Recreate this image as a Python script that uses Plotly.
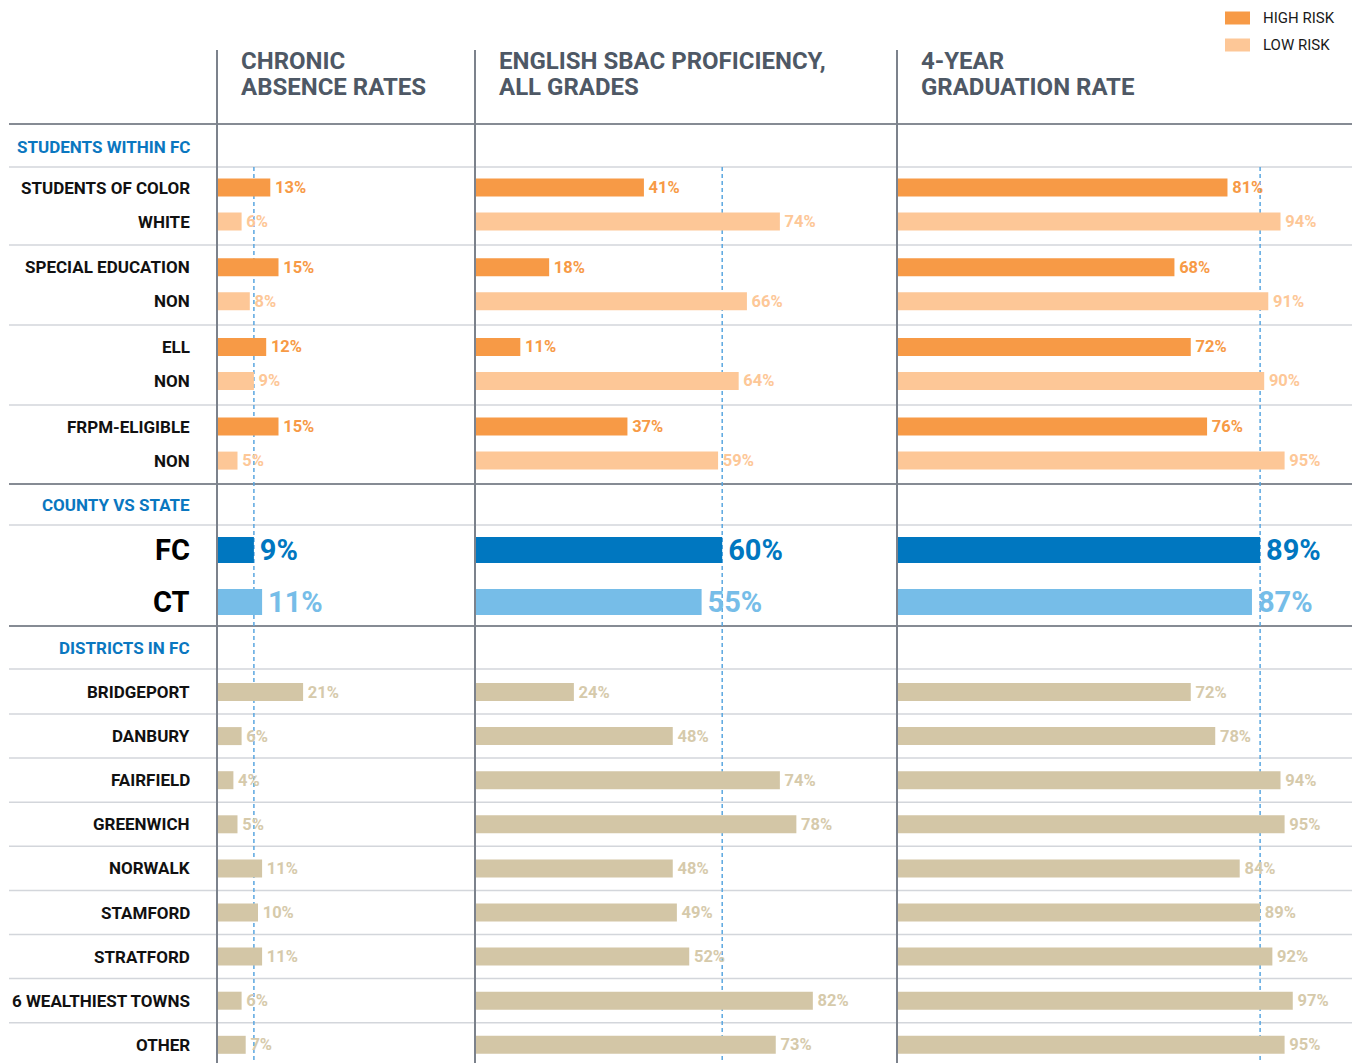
import plotly.graph_objects as go

# ---------------- data ----------------
metric_titles = [
    ("CHRONIC", "ABSENCE RATES"),
    ("ENGLISH SBAC PROFICIENCY,", "ALL GRADES"),
    ("4-YEAR", "GRADUATION RATE"),
]
section_titles = ["STUDENTS WITHIN FC", "COUNTY VS STATE", "DISTRICTS IN FC"]
risk_levels = ["HIGH RISK", "LOW RISK"]

student_groups = ["STUDENTS OF COLOR", "WHITE", "SPECIAL EDUCATION", "NON",
                  "ELL", "NON", "FRPM-ELIGIBLE", "NON"]
chronic_students = [13, 6, 15, 8, 12, 9, 15, 5]
english_students = [41, 74, 18, 66, 11, 64, 37, 59]
grad_students = [81, 94, 68, 91, 72, 90, 76, 95]

regions = ["FC", "CT"]
chronic_regions = [9, 11]
english_regions = [60, 55]
grad_regions = [89, 87]

districts = ["BRIDGEPORT", "DANBURY", "FAIRFIELD", "GREENWICH", "NORWALK",
             "STAMFORD", "STRATFORD", "6 WEALTHIEST TOWNS", "OTHER"]
chronic_districts = [21, 6, 4, 5, 11, 10, 11, 6, 7]
english_districts = [24, 48, 74, 78, 48, 49, 52, 82, 73]
grad_districts = [72, 78, 94, 95, 84, 89, 92, 97, 95]

panels = [
    (chronic_students, chronic_regions, chronic_districts),
    (english_students, english_regions, english_districts),
    (grad_students, grad_regions, grad_districts),
]

# ---------------- styling ----------------
W, H = 1357, 1063
FONT = "Roboto"
HIGH = "#F79A46"
LOW = "#FDC797"
FC_BLUE = "#0077C0"
CT_BLUE = "#76BDE8"
TAN = "#D3C6A6"
TAN_TEXT = "#D6CAAB"
HEAD_BLUE = "#0A77C0"
TITLE_GREY = "#4E5865"
DARK_RULE = "#5E6570"
LIGHT_RULE = "#D3D6DB"
PANEL_RULE = "#7C828C"
REF_BLUE = "#5BA7E0"

px_per_pct = [4.1, 4.12, 4.08]
panel_edges = [217, 475, 897, 1352]
label_right = 192
rule_left, rule_right = 9, 1352

# vertical layout (y axis runs in page pixels, top = 0)
header_rule = 124
students_head = 147
student_y = [187.5 + 79.7 * (i // 2) + 34 * (i % 2) for i in range(len(student_groups))]
county_head = 505
region_y = [550, 602]
districts_head = 648
district_y = [692 + 44.1 * i for i in range(len(districts))]

VALUE_TEMPLATE = "\u200a%{x}%"


def px(x):
    return x / W


fig = go.Figure()
axis_ids = ["x", "x2", "x3"]

for k, (stud_vals, reg_vals, dist_vals) in enumerate(panels):
    xa = axis_ids[k]
    common = dict(orientation="h", xaxis=xa, yaxis="y", textposition="outside",
                  texttemplate=VALUE_TEMPLATE, constraintext="none", cliponaxis=False,
                  marker_line_width=0, hoverinfo="skip", showlegend=False)
    stud_colors = [HIGH, LOW] * (len(stud_vals) // 2)
    fig.add_trace(go.Bar(
        x=stud_vals, y=student_y, width=18, marker_color=stud_colors,
        textfont=dict(family=FONT, size=16.5, weight=700, color=stud_colors), **common))
    fig.add_trace(go.Bar(
        x=reg_vals, y=region_y, width=26, marker_color=[FC_BLUE, CT_BLUE],
        textfont=dict(family=FONT, size=29, weight=700, color=[FC_BLUE, CT_BLUE]), **common))
    fig.add_trace(go.Bar(
        x=dist_vals, y=district_y, width=18, marker_color=TAN,
        textfont=dict(family=FONT, size=16.5, weight=700, color=TAN_TEXT), **common))

shapes = []
annotations = []

# panel axes and titles
layout_axes = {}
for k in range(3):
    x0, x1 = panel_edges[k], panel_edges[k + 1]
    key = "xaxis" if k == 0 else f"xaxis{k + 1}"
    layout_axes[key] = dict(domain=[px(x0), px(x1)], range=[0, (x1 - x0) / px_per_pct[k]],
                            visible=False, fixedrange=True, anchor="y")
    # panel divider
    shapes.append(dict(type="line", xref="paper", yref="y", x0=px(x0), x1=px(x0),
                       y0=50, y1=H, line=dict(color=PANEL_RULE, width=2), layer="above"))
    # reference line at the county (FC) value
    fc_val = panels[k][1][0]
    shapes.append(dict(type="line", xref=axis_ids[k], yref="y", x0=fc_val, x1=fc_val,
                       y0=167, y1=H, line=dict(color=REF_BLUE, width=1.5, dash="4px,3px"),
                       layer="below"))
    line1, line2 = metric_titles[k]
    for txt, yy in ((line1, 61), (line2, 87)):
        annotations.append(dict(text=txt, xref="paper", yref="y", x=px(x0 + 22), y=yy,
                                xanchor="left", yanchor="middle", showarrow=False,
                                font=dict(family=FONT, size=24, weight=700, color=TITLE_GREY)))

# horizontal rules
dark_rules = [header_rule, 484, 626]
light_rules = [167, 245, 325, 405, 525, 669] + [y + 22 for y in district_y[:-1]]
for y in dark_rules:
    shapes.append(dict(type="line", xref="paper", yref="y", x0=px(rule_left), x1=px(rule_right),
                       y0=y, y1=y, line=dict(color=DARK_RULE, width=1.5), layer="below"))
for y in light_rules:
    shapes.append(dict(type="line", xref="paper", yref="y", x0=px(rule_left), x1=px(rule_right),
                       y0=y, y1=y, line=dict(color=LIGHT_RULE, width=1.5), layer="below"))


def row_label(text, y, size=17, color="#111111"):
    annotations.append(dict(text=text, xref="paper", yref="y", x=px(label_right), y=y,
                            xanchor="right", yanchor="middle", showarrow=False,
                            font=dict(family=FONT, size=size, weight=700, color=color)))


for title, y in zip(section_titles, [students_head, county_head, districts_head]):
    row_label(title, y, size=17, color=HEAD_BLUE)
for name, y in zip(student_groups, student_y):
    row_label(name, y)
for name, y in zip(regions, region_y):
    row_label(name, y, size=29, color="#000000")
for name, y in zip(districts, district_y):
    row_label(name, y)

# legend
for i, (name, color) in enumerate(zip(risk_levels, [HIGH, LOW])):
    yc = 18 + 27 * i
    shapes.append(dict(type="rect", xref="paper", yref="y", x0=px(1225), x1=px(1250),
                       y0=yc - 6.5, y1=yc + 6.5, fillcolor=color, line=dict(width=0)))
    annotations.append(dict(text=name, xref="paper", yref="y", x=px(1261), y=yc,
                            xanchor="left", yanchor="middle", showarrow=False,
                            font=dict(family=FONT, size=15, color="#1A1A1A")))

fig.update_layout(
    width=W, height=H,
    margin=dict(l=0, r=0, t=0, b=0, pad=0),
    paper_bgcolor="white", plot_bgcolor="white",
    barmode="overlay",
    yaxis=dict(domain=[0, 1], range=[H, 0], visible=False, fixedrange=True),
    shapes=shapes, annotations=annotations,
    font=dict(family=FONT),
    **layout_axes,
)

fig.write_html("out.html")
